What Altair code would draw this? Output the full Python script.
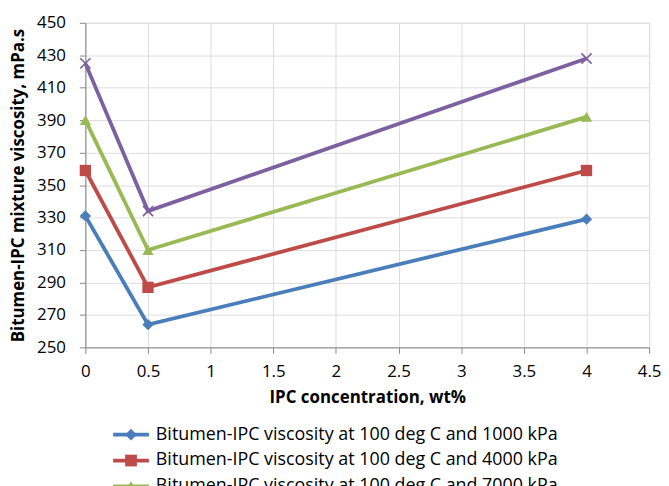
import altair as alt
import pandas as pd

conc = [0, 0.5, 4]
series_names = [
    "Bitumen-IPC viscosity at 100 deg C and 1000 kPa",
    "Bitumen-IPC viscosity at 100 deg C and 4000 kPa",
    "Bitumen-IPC viscosity at 100 deg C and 7000 kPa",
    "Bitumen-IPC viscosity at 100 deg C and 10000 kPa",
]
marker_keys = ["m1", "m2", "m3", "m4"]
visc_1000 = [331, 264, 329]
visc_4000 = [359, 287, 359]
visc_7000 = [390, 310, 392]
visc_10000 = [425, 334, 428]

colors = ["#4A7EBB", "#BE4B48", "#98B954", "#7D60A0"]
x_shape = "M-1,-0.8L-0.8,-1L0,-0.2L0.8,-1L1,-0.8L0.2,0L1,0.8L0.8,1L0,0.2L-0.8,1L-1,0.8L-0.2,0Z"
shapes = ["diamond", "square", "triangle-up", x_shape]

rows = []
for name, key, vals in zip(series_names, marker_keys, [visc_1000, visc_4000, visc_7000, visc_10000]):
    for c, v in zip(conc, vals):
        rows.append({"conc": c, "visc": v, "series": name, "series_m": key})
df = pd.DataFrame(rows)

font = "Open Sans"
LX, LY = 37, 406

line_legend = alt.Legend(
    title=None, orient="none", legendX=LX, legendY=LY, direction="vertical",
    labelFont=font, labelFontSize=18, labelColor="#000000", labelLimit=700,
    symbolType="M-3,0L3,0", symbolSize=144, symbolStrokeWidth=3.8,
    rowPadding=8, labelOffset=16,
)
mark_legend = alt.Legend(
    title=None, orient="none", legendX=LX, legendY=LY, direction="vertical",
    labelFont=font, labelFontSize=18, labelColor="#000000", labelLimit=700,
    labelExpr="''", symbolSize=140, symbolStrokeWidth=0, symbolOpacity=1,
    rowPadding=8, labelOffset=16,
)

x_enc = alt.X(
    "conc:Q",
    scale=alt.Scale(domain=[0, 4.5], nice=False),
    axis=alt.Axis(
        title="IPC concentration, wt%",
        values=[0, 0.5, 1, 1.5, 2, 2.5, 3, 3.5, 4, 4.5],
        format="~g",
        labelFlush=False,
        labelOverlap=False,
        titleFont=font,
        titleFontSize=17,
        titleFontWeight="bold",
        titlePadding=11,
        labelFont=font,
        labelFontSize=17,
        labelPadding=10,
        tickSize=6,
    ),
)
y_enc = alt.Y(
    "visc:Q",
    scale=alt.Scale(domain=[250, 450], nice=False, zero=False),
    axis=alt.Axis(
        title="Bitumen-IPC mixture viscosity, mPa.s",
        values=list(range(250, 451, 20)),
        labelFlush=False,
        labelOverlap=False,
        titleFont=font,
        titleFontSize=17,
        titleFontWeight="bold",
        titlePadding=9,
        labelFont=font,
        labelFontSize=17,
        labelPadding=14,
        tickSize=6,
    ),
)

base = alt.Chart(df).encode(x=x_enc, y=y_enc)

lines = base.mark_line(strokeWidth=3.8).encode(
    stroke=alt.Stroke("series:N", scale=alt.Scale(domain=series_names, range=colors), legend=line_legend),
    detail="series:N",
)
points = base.mark_point(filled=True, size=130, opacity=1, strokeWidth=0).encode(
    fill=alt.Fill("series_m:N", scale=alt.Scale(domain=marker_keys, range=colors), legend=mark_legend),
    shape=alt.Shape("series_m:N", scale=alt.Scale(domain=marker_keys, range=shapes), legend=mark_legend),
)

chart = (
    alt.layer(lines, points)
    .properties(width=568, height=327, padding={"left": 9, "top": 12, "right": 8, "bottom": 5})
    .configure_view(stroke=None)
    .configure_axis(
        gridColor="#A6A6A6",
        gridWidth=1.2,
        domainColor="#A6A6A6",
        domainWidth=1.2,
        tickColor="#A6A6A6",
        tickWidth=1.2,
        labelColor="#000000",
        titleColor="#000000",
    )
    .configure(background="#ffffff")
)

chart.save("out.html", embed_options={"renderer": "svg", "actions": False})
